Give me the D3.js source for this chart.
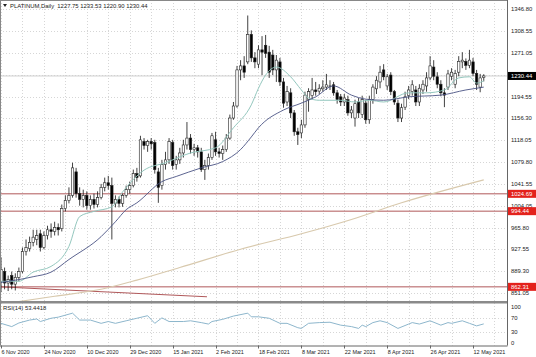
<!DOCTYPE html>
<html><head><meta charset="utf-8">
<script src="https://cdn.jsdelivr.net/npm/d3@7/dist/d3.min.js"></script>
<style>body{margin:0;background:#fff}svg{display:block}text{font-family:"Liberation Sans",Arial,sans-serif}</style>
</head><body>
<script>
// ---------- DATA ----------
const openP = [872,889,869,882,867,879,889,924,929,940,945,955,931,952,962,959,966,964,999,1013,
1022,1063,1025,1015,1022,1004,1015,1006,1018,1036,1044,1039,1008,1015,1008,1022,1032,1039,1060,1056,
1116,1109,1116,1114,1063,1039,1076,1084,1114,1076,1084,1096,1110,1122,1102,1105,1098,1067,1074,1088,
1119,1098,1095,1102,1122,1157,1178,1241,1248,1255,1303,1262,1251,1276,1284,1272,1267,1241,1255,1220,
1185,1201,1166,1133,1131,1145,1189,1196,1206,1204,1208,1211,1213,1215,1201,1194,1185,1189,1166,1157,
1185,1163,1183,1154,1189,1208,1220,1241,1213,1232,1203,1183,1157,1176,1196,1203,1206,1185,1206,1213,
1227,1246,1229,1216,1201,1211,1230,1216,1237,1255,1256,1249,1255,1235,1211,1227.75];
const highP = [914,896,882,889,886,896,931,945,950,962,962,962,959,969,973,976,973,1006,1022,1036,
1079,1070,1036,1032,1029,1022,1025,1029,1042,1053,1056,1053,1022,1020,1025,1039,1046,1067,1070,1126,
1122,1119,1122,1119,1070,1084,1098,1122,1119,1091,1105,1119,1150,1129,1112,1110,1105,1084,1095,1131,
1133,1105,1109,1129,1163,1185,1248,1258,1265,1336,1310,1272,1284,1300,1302,1283,1276,1267,1262,1227,
1213,1209,1171,1140,1154,1203,1209,1227,1220,1216,1223,1234,1223,1220,1206,1199,1199,1196,1178,1189,
1192,1196,1189,1196,1216,1230,1248,1251,1234,1237,1206,1189,1182,1203,1213,1223,1213,1216,1223,1237,
1265,1258,1237,1223,1209,1241,1244,1241,1265,1272,1261,1276,1262,1241,1234,1233.53];
const lowP = [853,858,855,858,856,872,886,917,924,933,935,924,928,945,948,952,952,959,994,1008,
1018,1018,1004,1001,997,997,999,1001,1015,1029,1032,945,1001,1001,1002,1018,1025,1036,1046,1053,
1102,1098,1102,1060,1009,1032,1067,1077,1067,1067,1077,1088,1102,1095,1091,1088,1063,1049,1067,1084,
1091,1088,1084,1098,1119,1154,1175,1223,1227,1251,1255,1244,1244,1232,1262,1227,1232,1220,1213,1175,
1178,1157,1126,1110,1122,1140,1168,1189,1196,1199,1203,1206,1206,1196,1182,1178,1178,1161,1157,1142,
1157,1157,1147,1147,1182,1199,1209,1223,1206,1197,1180,1150,1150,1171,1190,1196,1178,1178,1199,1203,
1223,1223,1209,1195,1176,1206,1223,1209,1230,1244,1241,1244,1230,1206,1202,1220.90];
const closeP = [893,869,875,867,879,889,924,931,940,949,952,931,952,962,959,966,962,999,1013,1022,
1070,1025,1015,1022,1004,1015,1006,1018,1036,1044,1039,1008,1015,1008,1022,1032,1039,1060,1053,1119,
1109,1116,1112,1067,1036,1076,1084,1116,1074,1084,1096,1110,1122,1102,1105,1098,1067,1074,1088,1126,
1098,1095,1102,1122,1157,1178,1241,1248,1237,1303,1262,1255,1276,1272,1270,1237,1241,1258,1220,1183,
1203,1166,1133,1128,1145,1197,1203,1206,1203,1209,1211,1215,1213,1201,1189,1185,1192,1166,1171,1182,
1166,1189,1154,1189,1211,1223,1237,1229,1229,1203,1185,1157,1175,1194,1206,1215,1185,1209,1216,1227,
1248,1230,1216,1201,1197,1234,1237,1235,1256,1258,1249,1258,1235,1216,1227,1230.44];

// moving averages (bar index, value)
const maFastIdx = [0,5,9,14,19,22,26,31,34,40,46,53,60,65,70,72,74,77,81,84,86,89,95,99,103,107,114,119,124,128,131,133,135];
const maFastVal = [872,872,888,898,933,985,994,1002,1028,1066,1079,1096,1105,1140,1180,1209,1232,1246,1229,1206,1192,1188,1188,1185,1188,1185,1201,1201,1206,1227,1229,1218,1222];
const maSlowIdx = [0,9,14,19,28,32,35,38,45,49,56,62,67,70,72,79,84,88,93,98,102,107,114,123,130,133,135];
const maSlowVal = [870,880,888,910,950,976,997,1009,1046,1055,1070,1081,1102,1124,1140,1171,1183,1194,1213,1197,1190,1188,1194,1197,1206,1209,1211];
const ma200Idx = [0,15,28,38,50,67,84,98,112,135];
const ma200Val = [832,846,858,874,896,928,955,980,1009,1049];

const rsiIdx = [0,3,5,8,10,11,14,16,20,22,25,28,30,32,35,38,41,43,45,47,51,53,56,58,59,62,65,69,70,72,75,78,80,83,84,86,89,92,95,98,100,101,102,104,106,108,111,114,115,117,120,123,125,126,129,131,133,135];
const rsiVal = [55,46,56,64,67,60,69,72,83,64,64,55,60,55,62,69,76,55,70,60,60,62,57,53,60,66,75,83,73,73,69,55,55,43,41,55,57,58,50,46,41,50,46,57,62,57,41,53,57,53,62,50,57,55,62,55,48,53.44];

const priceTicks = [1346.80,1308.55,1271.05,1232.80,1194.55,1156.30,1118.05,1079.80,1041.55,1004.05,965.80,927.55,889.30,851.05];
const levelLines = [1024.69, 994.44, 862.31];
const lastPrice = 1230.44;
const trendStart = [0, 862.31], trendEnd = [57.6, 845];
const dateTickIdx = [0,12,24,36,48,60,72,84,96,108,120,132];
const dateTickLabels = ["6 Nov 2020","24 Nov 2020","10 Dec 2020","29 Dec 2020","15 Jan 2021","2 Feb 2021","18 Feb 2021","8 Mar 2021","22 Mar 2021","8 Apr 2021","26 Apr 2021","12 May 2021"];
const rsiTicks = [100,70,30,0];
const header = "PLATINUM,Daily  1227.75 1233.53 1220.90 1230.44";
const rsiHeader = "RSI(14) 53.4418";

// ---------- LAYOUT ----------
const W=536,H=357, plotR=507, mainBot=301, rsiTop=303.5, rsiBot=345.5;
const x = d3.scaleLinear().domain([0,141.5]).range([1,plotR]);
const y = d3.scaleLinear().domain([851.05,1346.80]).range([293.3,9.3]);
const yr = d3.scaleLinear().domain([0,100]).range([343.3,307]);
const svg = d3.select("body").append("svg").attr("width",W).attr("height",H);
svg.append("rect").attr("width",W).attr("height",H).attr("fill","#fff");
const defs = svg.append("defs");
defs.append("clipPath").attr("id","cm").append("rect").attr("x",0).attr("y",0).attr("width",plotR).attr("height",mainBot);
defs.append("clipPath").attr("id","cr").append("rect").attr("x",0).attr("y",rsiTop).attr("width",plotR).attr("height",rsiBot-rsiTop);

const gridC="#d6d6d6";
const vg = d3.range(0,141,6);
svg.append("g").selectAll("line").data(vg).join("line")
  .attr("x1",d=>Math.round(x(d))+0.5).attr("x2",d=>Math.round(x(d))+0.5).attr("y1",0).attr("y2",rsiBot)
  .attr("stroke",gridC).attr("stroke-width",1).attr("stroke-dasharray","1,2");
svg.append("g").selectAll("line").data(priceTicks).join("line")
  .attr("x1",0).attr("x2",plotR).attr("y1",d=>Math.round(y(d))+0.5).attr("y2",d=>Math.round(y(d))+0.5)
  .attr("stroke",gridC).attr("stroke-dasharray","1,2");
svg.append("g").selectAll("line").data([70,30]).join("line")
  .attr("x1",0).attr("x2",plotR).attr("y1",d=>Math.round(yr(d))+0.5).attr("y2",d=>Math.round(yr(d))+0.5)
  .attr("stroke",gridC).attr("stroke-dasharray","1,2");

const main = svg.append("g").attr("clip-path","url(#cm)");
main.append("line").attr("x1",0).attr("x2",plotR).attr("y1",y(lastPrice)).attr("y2",y(lastPrice)).attr("stroke","#cfcfcf").attr("stroke-width",1);
main.selectAll(".lvl").data(levelLines).join("line").attr("class","lvl")
  .attr("x1",0).attr("x2",plotR).attr("y1",d=>y(d)).attr("y2",d=>y(d)).attr("stroke","#b0585a").attr("stroke-width",1);
main.append("line").attr("x1",x(trendStart[0])-1).attr("y1",y(trendStart[1])).attr("x2",x(trendEnd[0])).attr("y2",y(trendEnd[1]))
  .attr("stroke","#b0585a").attr("stroke-width",1);

const lineGen = (xs,vs,ys)=>d3.line().curve(d3.curveMonotoneX).x((d,i)=>x(xs[i])).y((d,i)=>ys(vs[i]))(vs);
main.append("path").attr("d",lineGen(ma200Idx,ma200Val,y)).attr("fill","none").attr("stroke","#d8c9ad").attr("stroke-width",1.1);

const idx = d3.range(openP.length);
const bw = 2.4;
const cg = main.append("g");
cg.selectAll(".w").data(idx).join("line").attr("class","w")
  .attr("x1",i=>x(i)).attr("x2",i=>x(i)).attr("y1",i=>y(highP[i])).attr("y2",i=>y(lowP[i]))
  .attr("stroke","#111").attr("stroke-width",0.8);
cg.selectAll(".b").data(idx).join("rect").attr("class","b")
  .attr("x",i=>x(i)-bw/2).attr("width",bw)
  .attr("y",i=>y(Math.max(openP[i],closeP[i])))
  .attr("height",i=>Math.max(0.6,Math.abs(y(openP[i])-y(closeP[i]))))
  .attr("fill",i=>closeP[i]>=openP[i]?"#fff":"#000").attr("stroke","#222").attr("stroke-width",0.6);

main.append("path").attr("d",lineGen(maFastIdx,maFastVal,y)).attr("fill","none").attr("stroke","#94c7be").attr("stroke-width",1);
main.append("path").attr("d",lineGen(maSlowIdx,maSlowVal,y)).attr("fill","none").attr("stroke","#4a5283").attr("stroke-width",0.9);

svg.append("rect").attr("x",0).attr("y",mainBot).attr("width",plotR).attr("height",2.5).attr("fill","#8a8a8a");

const rg = svg.append("g").attr("clip-path","url(#cr)");
rg.append("path").attr("d",d3.line().x((d,i)=>x(rsiIdx[i])).y(d=>yr(d))(rsiVal)).attr("fill","none").attr("stroke","#8db6cc").attr("stroke-width",1);

svg.append("line").attr("x1",plotR+0.5).attr("x2",plotR+0.5).attr("y1",0).attr("y2",rsiBot).attr("stroke","#666");
svg.append("line").attr("x1",0).attr("x2",plotR+0.5).attr("y1",rsiBot+0.5).attr("y2",rsiBot+0.5).attr("stroke","#666");
svg.append("line").attr("x1",0.5).attr("x2",0.5).attr("y1",0).attr("y2",rsiBot).attr("stroke","#888");
svg.append("line").attr("x1",0).attr("x2",plotR).attr("y1",0.5).attr("y2",0.5).attr("stroke","#888");

const fs = 5.9;
svg.append("g").selectAll("text").data(priceTicks).join("text")
  .attr("x",511).attr("y",d=>y(d)+2).attr("font-size",fs).attr("fill","#222").text(d=>d.toFixed(2));
const lb = svg.append("g");
levelLines.forEach(v=>{
  lb.append("rect").attr("x",508).attr("y",y(v)-4).attr("width",28).attr("height",8).attr("fill","#e3221c");
  lb.append("text").attr("x",511).attr("y",y(v)+2).attr("font-size",fs).attr("fill","#fff").text(v.toFixed(2));
});
lb.append("rect").attr("x",508).attr("y",y(lastPrice)-4).attr("width",28).attr("height",8).attr("fill","#000");
lb.append("text").attr("x",511).attr("y",y(lastPrice)+2).attr("font-size",fs).attr("fill","#fff").text(lastPrice.toFixed(2));

svg.append("g").selectAll("text").data(rsiTicks).join("text")
  .attr("x",511).attr("y",d=>yr(d)+2).attr("font-size",fs).attr("fill","#222").text(d=>d);

svg.append("g").selectAll("line").data(dateTickIdx).join("line")
  .attr("x1",d=>Math.round(x(d))+0.5).attr("x2",d=>Math.round(x(d))+0.5).attr("y1",rsiBot).attr("y2",rsiBot+3).attr("stroke","#666");
svg.append("g").selectAll("text").data(dateTickIdx).join("text")
  .attr("x",d=>x(d)+0.5).attr("y",353.5).attr("font-size",5.5).attr("fill","#222").text((d,i)=>dateTickLabels[i]);

svg.append("path").attr("d","M3,4 L7,4 L5,7 Z").attr("fill","#222");
svg.append("text").attr("x",10).attr("y",8).attr("font-size",fs).attr("fill","#222").attr("xml:space","preserve").text(header);
svg.append("text").attr("x",3).attr("y",310).attr("font-size",fs).attr("fill","#222").text(rsiHeader);
</script>
</body></html>
